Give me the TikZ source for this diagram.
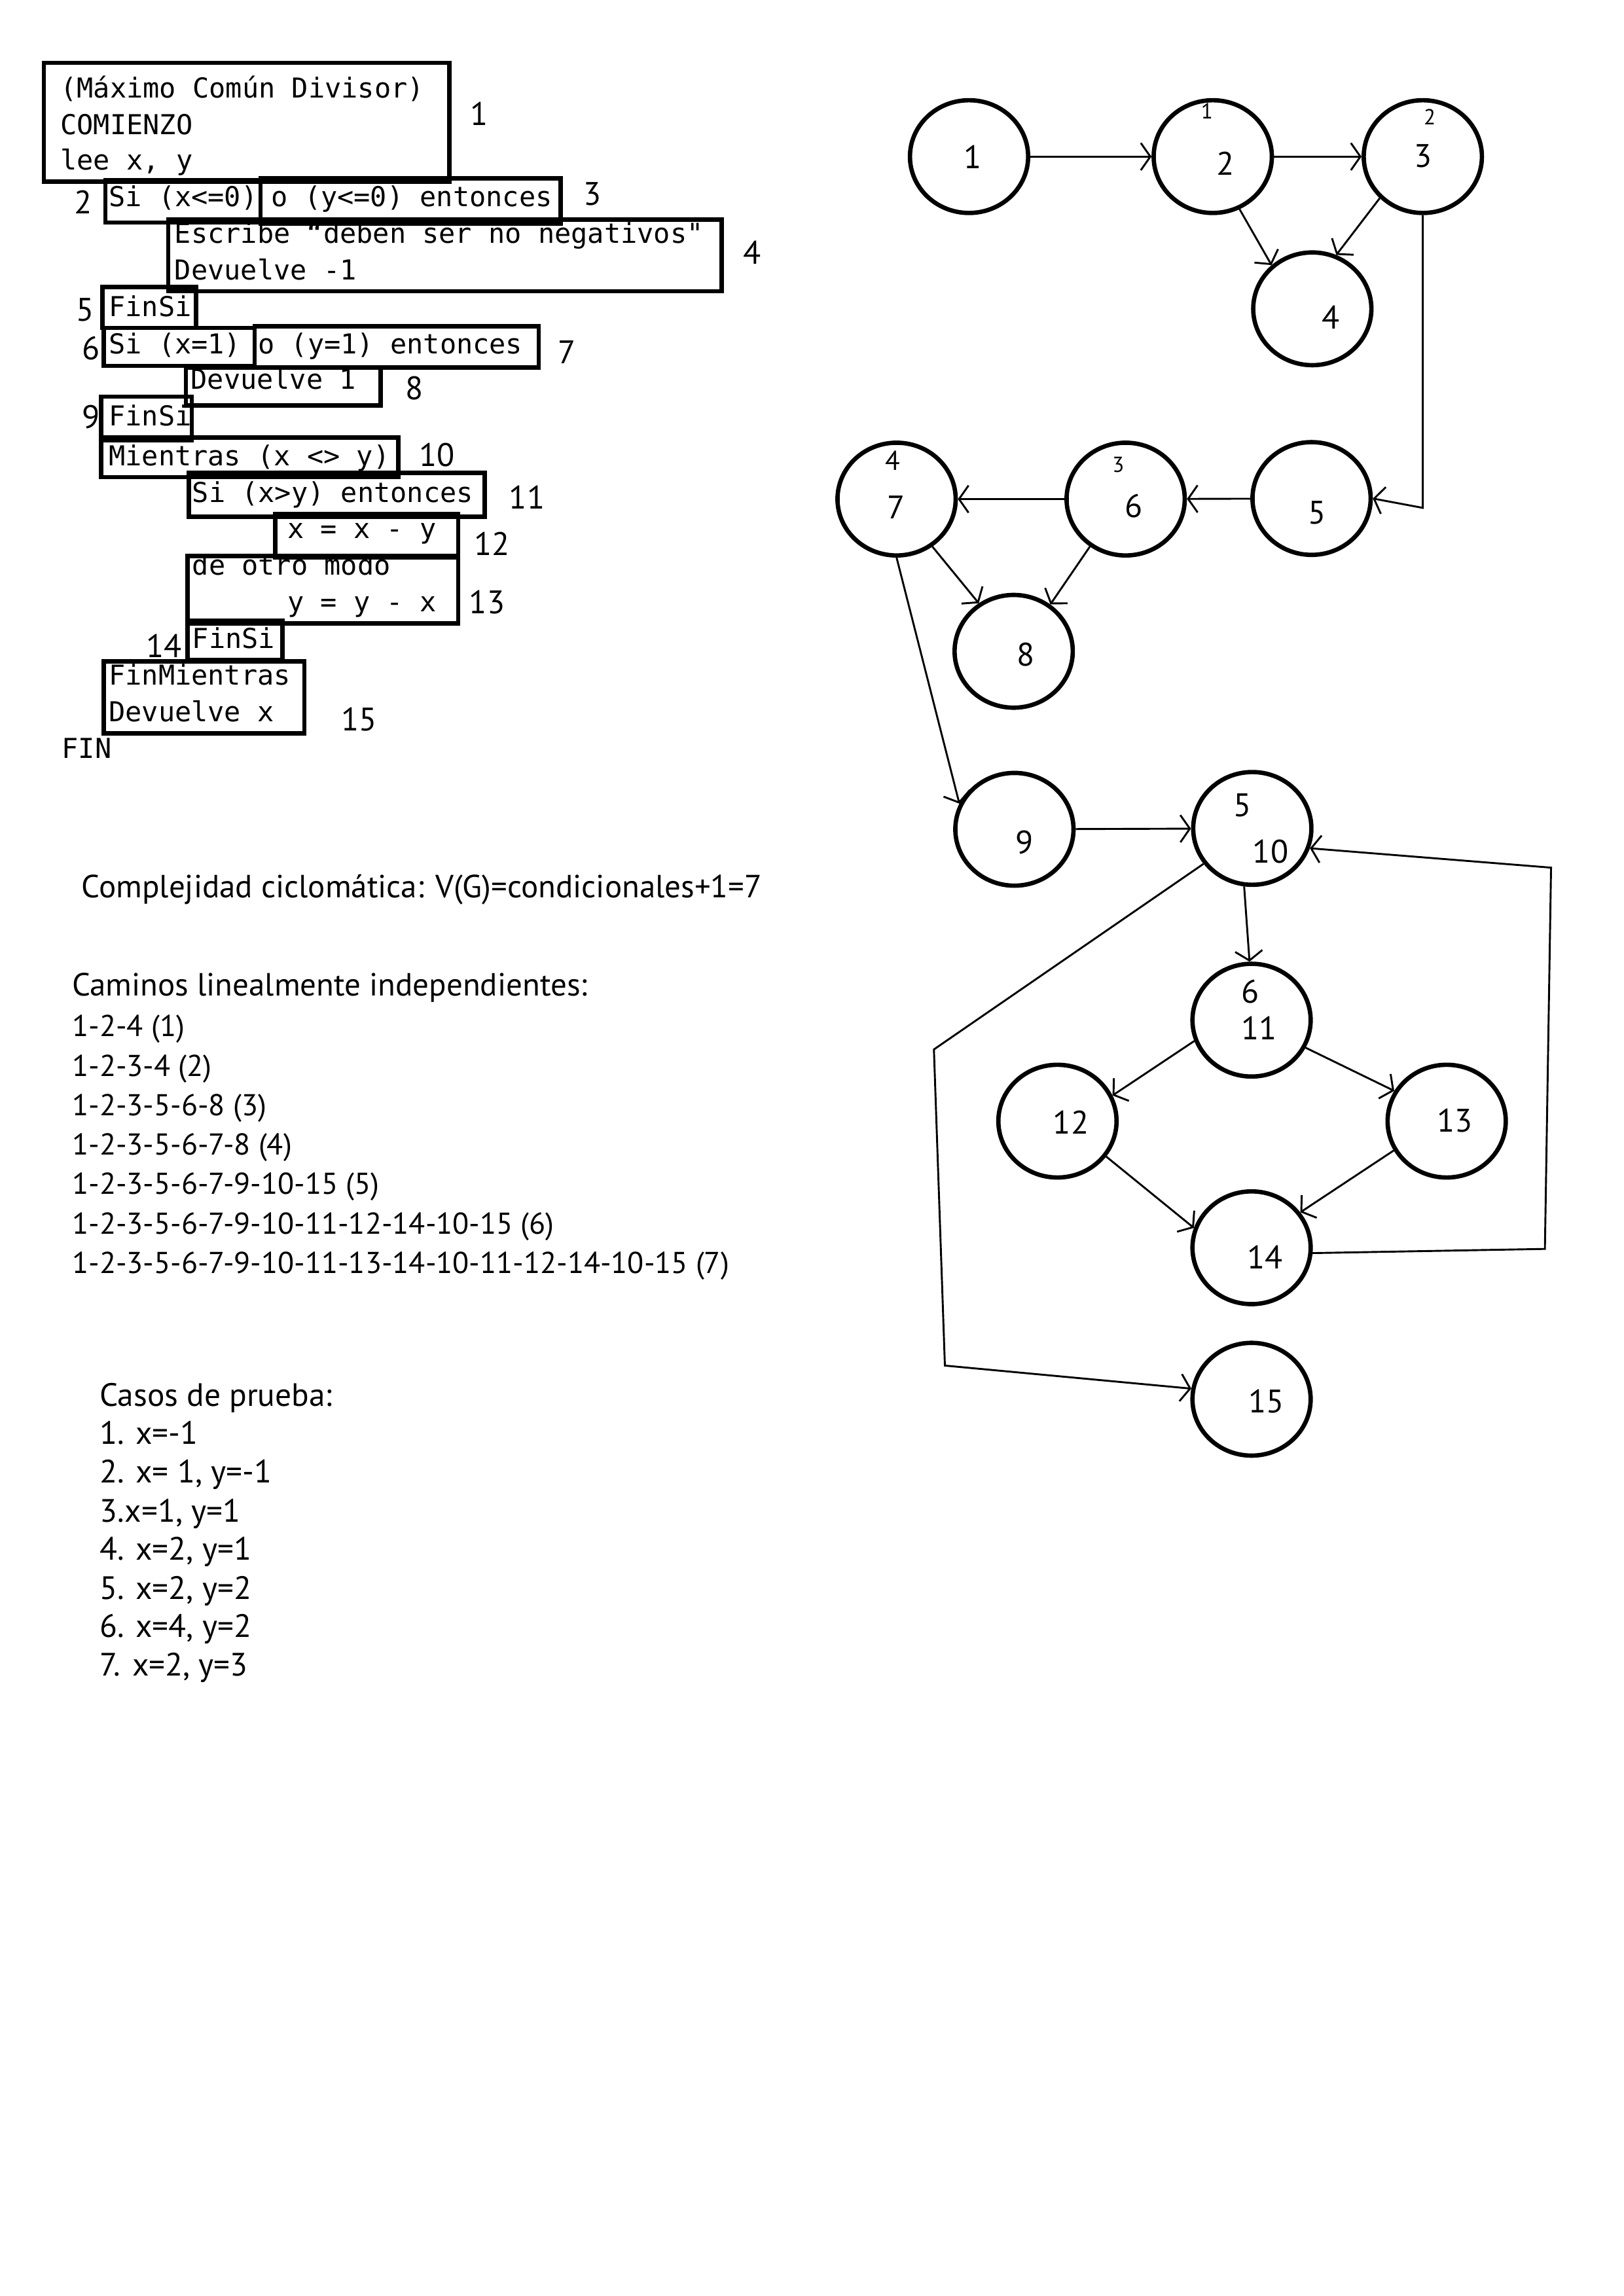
\documentclass[tikz,border=0pt]{standalone}
\usepackage{fontspec}
\setmainfont{PT Sans}
\setmonofont{DejaVu Sans Mono}
\usepackage{tikz}
\usetikzlibrary{arrows.meta}
\usetikzlibrary{shapes.geometric}

\begin{document}
\begin{tikzpicture}[x=0.018936cm, y=-0.018936cm,
        code/.style={font=\fontsize{10.1}{12}\selectfont\ttfamily, anchor=base west, inner sep=0pt},
        codebox/.style={line width=1.6pt},
        lbl/.style={font=\fontsize{12}{14}\selectfont, inner sep=0pt},
        body/.style={font=\fontsize{11.8}{14}\selectfont, anchor=base west, inner sep=0pt},
        camino/.style={body, font=\fontsize{11.1}{14}\selectfont},
        caso/.style={body, font=\fontsize{11.9}{14}\selectfont},
        vert/.style={draw, ellipse, line width=1.6pt, minimum width=43.5pt, minimum height=41.5pt, inner sep=0pt},
        hand/.style={font=\fontsize{8}{9}\selectfont, inner sep=0pt},
        edge/.style={line width=0.7pt, -{Straight Barb[length=3.5pt,width=10pt]}}]
        \useasboundingbox (0,0) rectangle (1109,1568.7);

        % pseudocodigo
        \draw [codebox] (30,43) rectangle (307,124);
        \draw [codebox] (72,123) rectangle (178,152);
        \draw [codebox] (178,122) rectangle (383,153);
        \draw [codebox] (115,150) rectangle (493,199);
        \draw [codebox] (70,196) rectangle (134,224);
        \draw [codebox] (71,224) rectangle (174,250);
        \draw [codebox] (174,223) rectangle (368,251);
        \draw [codebox] (127,251) rectangle (260,277);
        \draw [codebox] (69,271) rectangle (131,301);
        \draw [codebox] (69,299) rectangle (272,326);
        \draw [codebox] (129,323) rectangle (331,353);
        \draw [codebox] (188,351) rectangle (313,381);
        \draw [codebox] (128,380) rectangle (313,426);
        \draw [codebox] (128,424) rectangle (193,451);
        \draw [codebox] (71,452) rectangle (208,501);

        \node [code] (mcd) at (41,67) {(Máximo Común Divisor)};
        \node [code] (comienzo) at (41,92) {COMIENZO};
        \node [code] (lee) at (41,116) {lee x, y};
        \node [code] (si1) at (74,141) {Si (x<=0)};
        \node [code] (o1) at (185,141) {o (y<=0) entonces};
        \node [code] (escribe) at (119,166) {Escribe “deben ser no negativos"};
        \node [code] (dev1) at (119,191) {Devuelve -1};
        \node [code] (finsi1) at (74,216) {FinSi};
        \node [code] (si2) at (74,241.5) {Si (x=1)};
        \node [code] (o2) at (176,241.5) {o (y=1) entonces};
        \node [code] (dev2) at (130,266) {Devuelve 1};
        \node [code] (finsi2) at (74,290.7) {FinSi};
        \node [code] (mientras) at (74,318) {Mientras (x <> y)};
        \node [code] (si3) at (131,343) {Si (x>y) entonces};
        \node [code] (xmy) at (196,368) {x = x - y};
        \node [code] (otro) at (131,393) {de otro modo};
        \node [code] (ymx) at (196,418) {y = y - x};
        \node [code] (finsi3) at (131,443) {FinSi};
        \node [code] (finmientras) at (74,468) {FinMientras};
        \node [code] (dev3) at (74,493) {Devuelve x};
        \node [code] (fin) at (42,518) {FIN};

        \node [lbl] (l1) at (327.5,77.5) {1};
        \node [lbl] (l2) at (57,138) {2};
        \node [lbl] (l3) at (404.5,132.7) {3};
        \node [lbl] (l4) at (514,172.7) {4};
        \node [lbl] (l5) at (58,211.8) {5};
        \node [lbl] (l6) at (62.4,238) {6};
        \node [lbl] (l7) at (387.3,240.6) {7};
        \node [lbl] (l8) at (283,265.2) {8};
        \node [lbl] (l9) at (62.4,284.9) {9};
        \node [lbl] (l10) at (298.5,310.7) {10};
        \node [lbl] (l11) at (360,339.7) {11};
        \node [lbl] (l12) at (336,371.5) {12};
        \node [lbl] (l13) at (332.7,411.6) {13};
        \node [lbl] (l14) at (112,441.2) {14};
        \node [lbl] (l15) at (245.4,491.7) {15};

        % textos
        \node [body] (complejidad) at (55.5,613.4) {Complejidad ciclomática: V(G)=condicionales+1=7};
        \node [body] (caminos) at (49,680.2) {Caminos linealmente independientes:};
        \node [camino] (cam1) at (49,708.2) {1-2-4 (1)};
        \node [camino] (cam2) at (49,735.2) {1-2-3-4 (2)};
        \node [camino] (cam3) at (49,762.1) {1-2-3-5-6-8 (3)};
        \node [camino] (cam4) at (49,789.1) {1-2-3-5-6-7-8 (4)};
        \node [camino] (cam5) at (49,816) {1-2-3-5-6-7-9-10-15 (5)};
        \node [camino] (cam6) at (49,843) {1-2-3-5-6-7-9-10-11-12-14-10-15 (6)};
        \node [camino] (cam7) at (49,869.9) {1-2-3-5-6-7-9-10-11-13-14-10-11-12-14-10-15 (7)};

        \node [caso] (casos) at (67.8,960.8) {Casos de prueba:};
        \node [caso] (caso1) at (67.8,986.9) {1. x=-1};
        \node [caso] (caso2) at (67.8,1013) {2. x= 1, y=-1};
        \node [caso] (caso3) at (67.8,1039.8) {3.x=1, y=1};
        \node [caso] (caso4) at (67.8,1065.9) {4. x=2, y=1};
        \node [caso] (caso5) at (67.8,1092.7) {5. x=2, y=2};
        \node [caso] (caso6) at (67.8,1118.8) {6. x=4, y=2};
        \node [caso] (caso7) at (67.8,1144.9) {7. x=2, y=3};

        % grafo
        \node [vert] (n1) at (662,107) {};
        \node [vert] (n2) at (828.5,107) {};
        \node [vert] (n3) at (972,107) {};
        \node [vert] (n4) at (896.5,211) {};
        \node [vert] (n5) at (896,340.6) {};
        \node [vert] (n6) at (769,341) {};
        \node [vert] (n7) at (612.5,341) {};
        \node [vert] (n8) at (692.5,445) {};
        \node [vert] (n9) at (693,566.6) {};
        \node [vert] (n10) at (855.5,566) {};
        \node [vert] (n11) at (855,697) {};
        \node [vert] (n12) at (722.4,766) {};
        \node [vert] (n13) at (988.3,766) {};
        \node [vert] (n14) at (855,852.5) {};
        \node [vert] (n15) at (855,956) {};

        \node [lbl] (t1) at (664.5,107.3) {1};
        \node [lbl] (t2) at (837,111.8) {2};
        \node [lbl] (t3) at (972,106.6) {3};
        \node [lbl] (t4) at (909,217) {4};
        \node [lbl] (t5) at (899.7,350.3) {5};
        \node [lbl] (t6) at (774.5,345.8) {6};
        \node [lbl] (t7) at (612,346.6) {7};
        \node [lbl] (t8) at (700.7,447.2) {8};
        \node [lbl] (t9) at (699.7,575.5) {9};
        \node [lbl] (t10) at (868,581.8) {10};
        \node [lbl] (t11) at (860,702.6) {11};
        \node [lbl] (t12) at (731.6,767) {12};
        \node [lbl] (t13) at (994,765.4) {13};
        \node [lbl] (t14) at (864.3,858.9) {14};
        \node [lbl] (t15) at (865,957.5) {15};

        \node [hand] (h1) at (824.5,76) {1};
        \node [hand] (h2) at (976.7,79.7) {2};
        \node [hand] (h3) at (764,317.5) {3};
        \node [hand, font=\fontsize{10}{11}\selectfont] (h4) at (609.7,314.5) {4};
        \node [hand, font=\fontsize{12}{13}\selectfont] (h5) at (848.6,550.4) {5};
        \node [hand, font=\fontsize{12}{13}\selectfont] (h6) at (854.3,677.5) {6};

        \coordinate (c35) at (972,347);
        \coordinate (c10a) at (638,717);
        \coordinate (c10b) at (645.5,933);
        \coordinate (c14a) at (1055.4,853.3);
        \coordinate (c14b) at (1059.6,592.8);

        \draw [edge] (n1) -- (n2);
        \draw [edge] (n2) -- (n3);
        \draw [edge] (n2.-63) -- (n4.133);
        \draw [edge] (n3.224) -- (n4.66);
        \draw [edge] (n3.south) -- (c35) -- (n5.east);
        \draw [edge] (n5) -- (n6);
        \draw [edge] (n6) -- (n7);
        \draw [edge] (n6.233) -- (n8.52);
        \draw [edge] (n7.-53) -- (n8.126);
        \draw [edge] (n7.south) -- (n9.155);
        \draw [edge] (n9) -- (n10);
        \draw [edge] (n10.-98) -- (n11.92);
        \draw [edge] (n10.216) -- (c10a) -- (c10b) -- (n15.170);
        \draw [edge] (n14.-5) -- (c14a) -- (c14b) -- (n10.-19);
        \draw [edge] (n11.200) -- (n12.25);
        \draw [edge] (n11.-27) -- (n13.150);
        \draw [edge] (n12.-36) -- (n14.161);
        \draw [edge] (n13.209) -- (n14.36);

    \end{tikzpicture}
\end{document}
